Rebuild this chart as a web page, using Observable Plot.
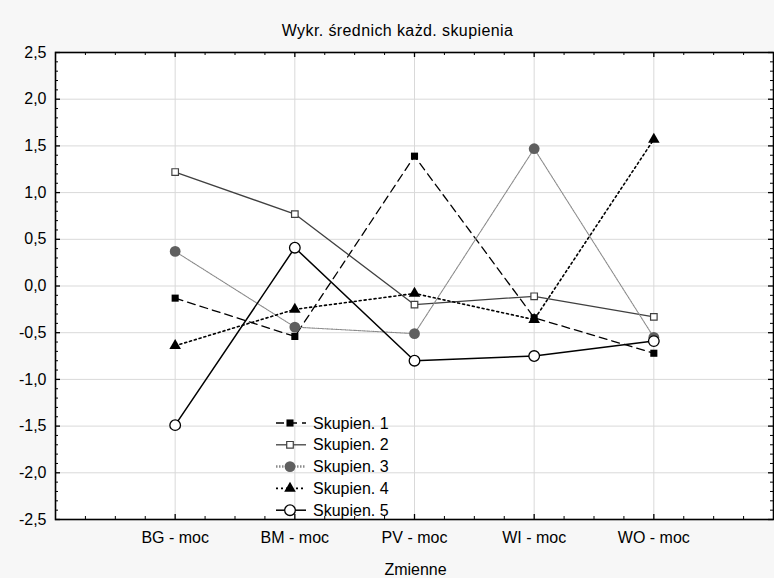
<!DOCTYPE html>
<html>
<head>
<meta charset="utf-8">
<script src="https://cdn.jsdelivr.net/npm/d3@7"></script>
<script src="https://cdn.jsdelivr.net/npm/@observablehq/plot@0.6"></script>
<style>
  html, body { margin: 0; padding: 0; background: #f7f7f7; }
  #chart { width: 774px; height: 578px; position: relative; }
</style>
</head>
<body>
<div id="chart"></div>
<script>
// ---- data ----
const title = "Wykr. średnich każd. skupienia";
const xTitle = "Zmienne";
const categories = ["BG - moc", "BM - moc", "PV - moc", "WI - moc", "WO - moc"];
const seriesNames = ["Skupien. 1", "Skupien. 2", "Skupien. 3", "Skupien. 4", "Skupien. 5"];
const s1 = [-0.13, -0.54, 1.39, -0.34, -0.72];
const s2 = [1.22, 0.77, -0.20, -0.11, -0.33];
const s3 = [0.37, -0.44, -0.51, 1.47, -0.55];
const s4 = [-0.64, -0.25, -0.08, -0.36, 1.57];
const s5 = [-1.49, 0.41, -0.80, -0.75, -0.59];
const yTicks = [-2.5, -2.0, -1.5, -1.0, -0.5, 0.0, 0.5, 1.0, 1.5, 2.0, 2.5];

// ---- build tables ----
const allSeries = [s1, s2, s3, s4, s5];
const rows = allSeries.map((vals, si) => vals.map((v, i) => ({i, v, s: seriesNames[si]})));
const catIdx = categories.map((c, i) => i);
const yMinor = d3.range(-25, 26).map(k => k / 10).filter(v => Math.abs(v * 2 - Math.round(v * 2)) > 1e-9);
const xMinor = d3.range(-4, 21).map(k => k / 4).filter(v => Math.abs(v - Math.round(v)) > 1e-9);

const W = 774, H = 578, mL = 55, mR = 1, mT = 52, mB = 59;
const pw = W - mL - mR, ph = H - mT - mB;
const font = "'Liberation Sans', Arial, sans-serif";

const styles = [
  {line: {stroke: "#000", strokeWidth: 1.3, strokeDasharray: "8,5"}, dot: {symbol: "square", r: 4, fill: "#000", stroke: "none"}},
  {line: {stroke: "#404040", strokeWidth: 1.3}, dot: {symbol: "square", r: 3.7, fill: "#fff", stroke: "#404040", strokeWidth: 1.2}},
  {line: {stroke: "#8a8a8a", strokeWidth: 1.1, strokeDasharray: "1.2,1"}, dot: {symbol: "circle", r: 5.4, fill: "#5f5f5f", stroke: "none"}},
  {line: {stroke: "#000", strokeWidth: 1.6, strokeDasharray: "2,3"}, dot: {symbol: "triangle", r: 4.3, fill: "#000", stroke: "none"}},
  {line: {stroke: "#000", strokeWidth: 1.5}, dot: {symbol: "circle", r: 5.3, fill: "#fff", stroke: "#000", strokeWidth: 1.3}}
];
const legendLine = [
  styles[0].line, styles[1].line,
  {stroke: "#8a8a8a", strokeWidth: 2.5, strokeDasharray: "1.5,1.5"},
  styles[3].line, styles[4].line
];

const marks = [
  Plot.frame({fill: "#fff", stroke: "none"}),
  Plot.ruleX(catIdx, {x: d => d, stroke: "#d9d9d9", strokeWidth: 1}),
  Plot.ruleY(yTicks, {y: d => d, stroke: "#d9d9d9", strokeWidth: 1}),
];
rows.forEach((r, si) => {
  marks.push(Plot.line(r, {x: "i", y: "v", ...styles[si].line}));
});
rows.forEach((r, si) => {
  marks.push(Plot.dot(r, {x: "i", y: "v", ...styles[si].dot}));
});
// inward tick marks on all four sides
marks.push(
  Plot.tickY(yTicks, {y: d => d, insetRight: pw - 5, stroke: "#000", strokeWidth: 1.3}),
  Plot.tickY(yMinor, {y: d => d, insetRight: pw - 3, stroke: "#000", strokeWidth: 1}),
  Plot.tickY(yTicks, {y: d => d, insetLeft: pw - 5, stroke: "#000", strokeWidth: 1.3}),
  Plot.tickY(yMinor, {y: d => d, insetLeft: pw - 3, stroke: "#000", strokeWidth: 1}),
  Plot.tickX(catIdx, {x: d => d, insetTop: ph - 5, stroke: "#000", strokeWidth: 1.3}),
  Plot.tickX(xMinor, {x: d => d, insetTop: ph - 3, stroke: "#000", strokeWidth: 1}),
  Plot.tickX(catIdx, {x: d => d, insetBottom: ph - 5, stroke: "#000", strokeWidth: 1.3}),
  Plot.tickX(xMinor, {x: d => d, insetBottom: ph - 3, stroke: "#000", strokeWidth: 1}),
  Plot.frame({stroke: "#000", strokeWidth: 1.6}),
  Plot.text([title], {frameAnchor: "top", lineAnchor: "middle", dx: -17, dy: -22, fontSize: 16, fill: "#000", fontFamily: font}),
  Plot.text([xTitle], {frameAnchor: "bottom", lineAnchor: "middle", dx: 1, dy: 50, fontSize: 16, fill: "#000", fontFamily: font})
);

const plot = Plot.plot({
  width: W, height: H,
  marginLeft: mL, marginRight: mR, marginTop: mT, marginBottom: mB,
  style: {background: "#f7f7f7", fontFamily: font, fontSize: "16px", color: "#000", overflow: "visible"},
  x: {type: "linear", domain: [-1, 5], ticks: catIdx, tickFormat: i => categories[i], tickSize: 0, tickPadding: 12, label: null},
  y: {domain: [-2.5, 2.5], ticks: yTicks, tickFormat: d => d3.format(".1f")(d).replace(".", ",").replace("−", "-"), tickSize: 0, tickPadding: 9, label: null},
  marks
});
document.getElementById("chart").appendChild(plot);
d3.select(plot).selectAll("text").filter(function() { return this.textContent === title; })
  .attr("letter-spacing", "0.4px");

// ---- legend (inside plot area) ----
const svg = d3.select(plot);
const lg = svg.append("g").attr("font-family", font).attr("font-size", 16).attr("text-anchor", "start");
const lx0 = 276, lx1 = 306, lmx = 290, ltx = 313, ly0 = 423, ldy = 21.8;
seriesNames.forEach((name, si) => {
  const y = ly0 + si * ldy;
  const st = styles[si];
  const ll = legendLine[si];
  lg.append("line").attr("x1", lx0).attr("x2", lx1).attr("y1", y).attr("y2", y)
    .attr("stroke", ll.stroke).attr("stroke-width", ll.strokeWidth)
    .attr("stroke-dasharray", ll.strokeDasharray || null);
  const symMap = {square: d3.symbolSquare, circle: d3.symbolCircle, triangle: d3.symbolTriangle};
  const r = st.dot.r;
  lg.append("path").attr("transform", `translate(${lmx},${y})`)
    .attr("d", d3.symbol(symMap[st.dot.symbol], Math.PI * r * r)())
    .attr("fill", st.dot.fill).attr("stroke", st.dot.stroke)
    .attr("stroke-width", st.dot.strokeWidth || null);
  lg.append("text").attr("x", ltx).attr("y", y).attr("dy", "0.35em").attr("fill", "#000").text(name);
});
</script>
</body>
</html>
